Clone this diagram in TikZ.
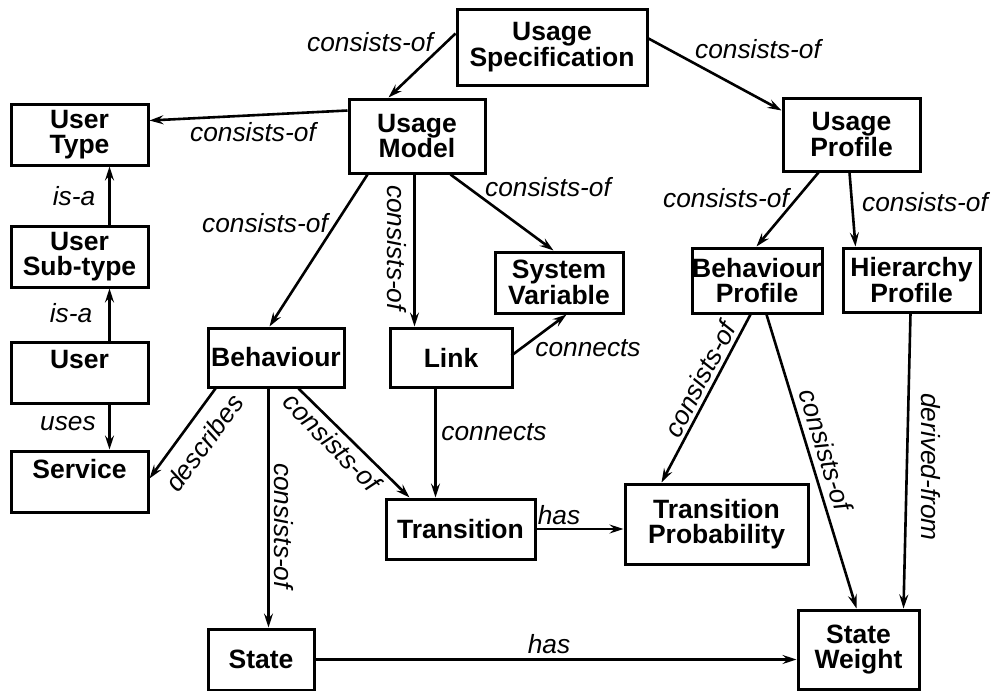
\documentclass[tikz,border=0pt]{standalone}
\usepackage{fontspec}
\setmainfont{Liberation Sans}
\usetikzlibrary{arrows.meta}
\begin{document}
\begin{tikzpicture}[x=1pt,y=-1pt,
  box/.style={draw, line width=3pt, inner sep=0pt, align=center,
    font=\bfseries\fontsize{26.5}{25.5}\selectfont},
  lbl/.style={inner sep=0pt, font=\itshape\fontsize{26.3}{26}\selectfont},
  conn/.style={line width=2.6pt, -{Stealth[length=14pt,width=9pt,inset=5pt]}}]
\useasboundingbox (0,0) rectangle (997,691);

% entities
\node[box, minimum width=190pt, minimum height=76pt] (spec)  at (552,47)     {Usage\\Specification};
\node[box, minimum width=136pt, minimum height=74pt] (model) at (417,136)    {Usage\\Model};
\node[box, minimum width=137pt, minimum height=61pt] (utype) at (79.5,134.5) {User\\Type};
\node[box, minimum width=137pt, minimum height=61pt] (usub)  at (79.5,256.5) {User\\Sub-type};
\node[box, minimum width=137pt, minimum height=61pt] (user)  at (79.5,372.5) {User\\\mbox{}};
\node[box, minimum width=137pt, minimum height=61pt] (serv)  at (79.5,481.5) {Service\\\mbox{}};
\node[box, minimum width=136pt, minimum height=59pt] (beh)   at (276,357.5)  {Behaviour};
\node[box, minimum width=122pt, minimum height=59pt] (link)  at (451,357.5)  {Link};
\node[box, minimum width=128pt, minimum height=61pt] (sysv)  at (559,282.5)  {System\\Variable};
\node[box, minimum width=137pt, minimum height=73pt] (uprof) at (851.5,134.5) {Usage\\Profile};
\node[box, minimum width=130pt, minimum height=65pt] (bprof) at (757,280.5)  {Behaviour\\Profile};
\node[box, minimum width=137pt, minimum height=64pt] (hprof) at (911.5,280)  {Hierarchy\\Profile};
\node[box, minimum width=149pt, minimum height=60pt] (trans) at (460.5,529)  {Transition};
\node[box, minimum width=183pt, minimum height=80pt] (tprob) at (716.5,524)  {Transition\\Probability};
\node[box, minimum width=106pt, minimum height=61pt] (state) at (261,659.5)  {State};
\node[box, minimum width=121pt, minimum height=79pt] (sw)    at (858.5,649.5) {State\\Weight};

% relations
\draw[conn] ([yshift=-26pt]spec.north west) -- ([xshift=41pt]model.north west);
\draw[conn] ([yshift=-31pt]spec.north east) -- ([yshift=-14pt]uprof.north west);
\draw[conn] ([yshift=-13pt]model.north west) -- ([yshift=-18pt]utype.north east);
\draw[conn] ([xshift=100pt]usub.north west) -- ([xshift=100pt]utype.south west);
\draw[conn] ([xshift=100pt]user.north west) -- ([xshift=100pt]usub.south west);
\draw[conn] ([xshift=100pt]user.south west) -- ([xshift=100pt]serv.north west);
\draw[conn] ([xshift=20pt]model.south west) -- ([xshift=63pt]beh.north west);
\draw[conn] ([xshift=67pt]model.south west) -- ([xshift=26pt]link.north west);
\draw[conn] ([xshift=103pt]model.south west) -- ([xshift=60pt]sysv.north west);
\draw[conn] ([xshift=-2pt,yshift=-29pt]link.north east) -- ([xshift=73pt]sysv.south west);
\draw[conn] ([xshift=47pt]link.south west) -- ([xshift=51pt]trans.north west);
\draw[conn] ([xshift=9pt]beh.south west) -- ([yshift=-29pt]serv.north east);
\draw[conn] ([xshift=62pt]beh.south west) -- ([xshift=62pt]state.north west);
\draw[conn] ([xshift=92pt]beh.south west) -- ([xshift=25pt]trans.north west);
\draw[conn] (trans.east) -- (trans.east -| tprob.west);
\draw[conn] ([xshift=37pt]uprof.south west) -- ([xshift=66pt]bprof.north west);
\draw[conn] ([xshift=68pt]uprof.south west) -- ([xshift=14pt]hprof.north west);
\draw[conn] ([xshift=60pt]bprof.south west) -- ([xshift=38pt]tprob.north west);
\draw[conn] ([xshift=76pt]bprof.south west) -- ([xshift=60pt]sw.north west);
\draw[conn] ([xshift=69pt]hprof.south west) -- ([xshift=107pt]sw.north west);
\draw[conn] (state.east) -- (state.east -| sw.west);

% relation labels
\node[lbl] (l1)  at (370,42)  {consists-of};
\node[lbl] (l2)  at (758,49)  {consists-of};
\node[lbl] (l3)  at (253,132) {consists-of};
\node[lbl] (l4)  at (74,196)  {is-a};
\node[lbl] (l5)  at (71,313)  {is-a};
\node[lbl] (l6)  at (68,424)  {uses};
\node[lbl] (l7)  at (265,223) {consists-of};
\node[lbl, rotate=-90] (l8) at (397,248) {consists-of};
\node[lbl] (l9)  at (548,187) {consists-of};
\node[lbl] (l10) at (588,348) {connects};
\node[lbl] (l11) at (494,432) {connects};
\node[lbl, rotate=53.5] (l12) at (204,443) {describes};
\node[lbl, rotate=-90] (l13) at (284,526) {consists-of};
\node[lbl, rotate=-45.3] (l14) at (332,442) {consists-of};
\node[lbl] (l15) at (559,515) {has};
\node[lbl] (l16) at (726,198) {consists-of};
\node[lbl] (l17) at (925,202) {consists-of};
\node[lbl, rotate=62.5] (l18) at (700,379) {consists-of};
\node[lbl, rotate=-73.1] (l19) at (826,450) {consists-of};
\node[lbl, rotate=-90] (l20) at (931,467) {derived-from};
\node[lbl] (l21) at (549,644) {has};
\end{tikzpicture}
\end{document}
